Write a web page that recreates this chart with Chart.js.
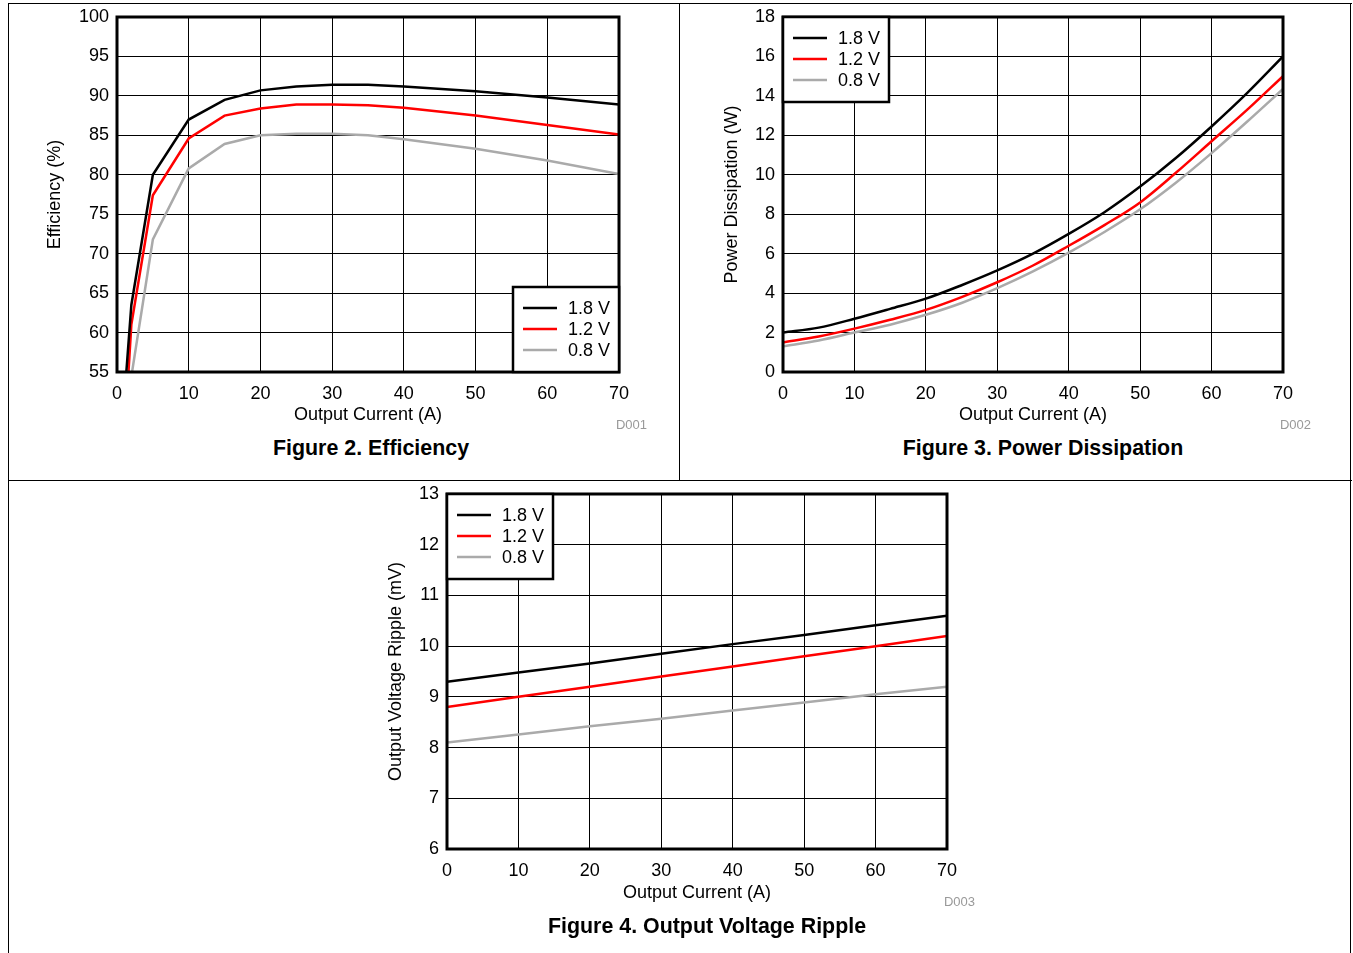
<!DOCTYPE html>
<html>
<head>
<meta charset="utf-8">
<script src="https://cdn.jsdelivr.net/npm/chart.js@4/dist/chart.umd.min.js"></script>
<style>
  body { margin: 0; background: #fff; font-family: "Liberation Sans", Arial, sans-serif; }
  #page { position: relative; width: 1353px; height: 953px; overflow: hidden; }
  .rule { position: absolute; background: #000; }
  canvas { position: absolute; }
  .caption { position: absolute; font-weight: bold; font-size: 21.4px; transform: translate(-50%, -50%); white-space: nowrap; }
  .code { position: absolute; font-size: 13px; color: #999; transform: translate(-100%, -50%); }
</style>
</head>
<body>
<div id="page">
  <div class="rule" style="left:8px;top:3px;width:1344px;height:1px"></div>
  <div class="rule" style="left:8px;top:3px;width:1px;height:950px"></div>
  <div class="rule" style="left:1350px;top:3px;width:1px;height:950px"></div>
  <div class="rule" style="left:679px;top:3px;width:1px;height:477px"></div>
  <div class="rule" style="left:8px;top:480px;width:1344px;height:1px"></div>

  <canvas id="effChart" width="660" height="430" style="left:10px;top:4px;width:660px;height:430px"></canvas>
  <canvas id="pdChart" width="650" height="430" style="left:690px;top:4px;width:650px;height:430px"></canvas>
  <canvas id="ripChart" width="620" height="430" style="left:370px;top:484px;width:620px;height:430px"></canvas>

  <div class="code" style="left:647px;top:424px">D001</div>
  <div class="code" style="left:1311px;top:424px">D002</div>
  <div class="code" style="left:975px;top:901px">D003</div>

  <div class="caption" style="left:371px;top:448px">Figure 2. Efficiency</div>
  <div class="caption" style="left:1043px;top:448px">Figure 3. Power Dissipation</div>
  <div class="caption" style="left:707px;top:926px">Figure 4. Output Voltage Ripple</div>
</div>
<script>
// ==================
// Data
// ==================
const seriesLabels = ["1.8 V", "1.2 V", "0.8 V"];
const seriesColors = ["#000000", "#ff0000", "#aaaaaa"];

// Figure 2 - efficiency (%)
const effCurrent18 = [1.3, 2, 5, 10, 15, 20, 25, 30, 35, 40, 50, 60, 70];
const eff18 = [55, 63.5, 80, 87, 89.5, 90.7, 91.2, 91.4, 91.4, 91.2, 90.6, 89.8, 88.9];
const effCurrent12 = [1.6, 2, 5, 10, 15, 20, 25, 30, 35, 40, 50, 60, 70];
const eff12 = [55, 61, 77.4, 84.6, 87.5, 88.4, 88.9, 88.9, 88.8, 88.5, 87.5, 86.3, 85.1];
const effCurrent08 = [2.1, 5, 10, 15, 20, 25, 30, 35, 40, 50, 60, 70];
const eff08 = [55, 71.8, 80.8, 83.9, 85.0, 85.2, 85.2, 85.0, 84.5, 83.3, 81.8, 80.1];

// Figure 3 - power dissipation (W)
const pdCurrent = [0, 5, 10, 15, 20, 25, 30, 35, 40, 45, 50, 55, 60, 65, 70];
const pd18 = [2.0, 2.25, 2.7, 3.2, 3.72, 4.4, 5.15, 6.0, 7.0, 8.1, 9.4, 10.85, 12.45, 14.15, 16.0];
const pd12 = [1.5, 1.8, 2.2, 2.65, 3.15, 3.8, 4.55, 5.4, 6.4, 7.45, 8.6, 10.1, 11.7, 13.3, 15.0];
const pd08 = [1.3, 1.6, 2.0, 2.4, 2.9, 3.5, 4.25, 5.1, 6.05, 7.1, 8.25, 9.6, 11.1, 12.7, 14.35];

// Figure 4 - output voltage ripple (mV)
const ripCurrent = [0, 10, 20, 30, 40, 50, 60, 70];
const rip18 = [9.3, 9.48, 9.66, 9.85, 10.04, 10.22, 10.41, 10.6];
const rip12 = [8.8, 9.0, 9.2, 9.4, 9.6, 9.8, 10.0, 10.2];
const rip08 = [8.1, 8.26, 8.42, 8.57, 8.73, 8.89, 9.05, 9.2];

const FONT = "'Liberation Sans', Arial, sans-serif";

// frame round the plot + legend box inside a corner
const framePlugin = {
  id: "frameLegend",
  afterDraw(chart, args, opts) {
    const ctx = chart.ctx;
    const a = chart.chartArea;
    ctx.save();
    ctx.strokeStyle = "#000";
    ctx.lineWidth = 3;
    ctx.strokeRect(a.left, a.top, a.right - a.left, a.bottom - a.top);

    const w = 106, h = 85;
    const x = opts.corner === "br" ? a.right - w : a.left;
    const y = opts.corner === "br" ? a.bottom - h : a.top;
    ctx.fillStyle = "#fff";
    ctx.fillRect(x, y, w, h);
    ctx.lineWidth = 2.5;
    ctx.strokeRect(x, y, w, h);
    ctx.font = "18px " + FONT;
    ctx.textBaseline = "middle";
    chart.data.datasets.forEach((ds, i) => {
      const ry = y + 21 + i * 21;
      ctx.strokeStyle = ds.borderColor;
      ctx.lineWidth = 2.5;
      ctx.beginPath();
      ctx.moveTo(x + 10, ry);
      ctx.lineTo(x + 44, ry);
      ctx.stroke();
      ctx.fillStyle = "#000";
      ctx.fillText(ds.label, x + 55, ry + 1);
    });
    ctx.restore();
  }
};

function points(xs, ys) {
  return xs.map((x, i) => ({ x: x, y: ys[i] }));
}

function makeChart(id, cfg) {
  const datasets = cfg.series.map((s, i) => ({
    label: seriesLabels[i],
    data: points(s[0], s[1]),
    borderColor: seriesColors[i],
    backgroundColor: seriesColors[i],
    borderWidth: 2.5,
    pointRadius: 0,
    tension: cfg.smooth ? 0.4 : 0,
    cubicInterpolationMode: cfg.smooth ? "monotone" : "default"
  }));

  return new Chart(document.getElementById(id), {
    type: "line",
    data: { datasets: datasets },
    plugins: [framePlugin],
    options: {
      responsive: false,
      animation: false,
      devicePixelRatio: 1,
      layout: { padding: cfg.pad },
      plugins: {
        legend: { display: false },
        tooltip: { enabled: false },
        frameLegend: { corner: cfg.corner }
      },
      scales: {
        x: {
          type: "linear",
          min: 0, max: 70,
          afterFit: s => { s.height = cfg.xHeight; s.paddingLeft = 0; s.paddingRight = 0; },
          grid: { color: "#000", lineWidth: 1, drawTicks: false },
          border: { display: false },
          ticks: { stepSize: 10, padding: 11, color: "#000", font: { family: FONT, size: 18 }, maxRotation: 0 },
          title: { display: true, text: "Output Current (A)", color: "#000", padding: 0, font: { family: FONT, size: 18 } }
        },
        y: {
          min: cfg.yMin, max: cfg.yMax,
          afterFit: s => { s.width = cfg.yWidth; s.paddingTop = 0; s.paddingBottom = 0; },
          grid: { color: "#000", lineWidth: 1, drawTicks: false },
          border: { display: false },
          ticks: { stepSize: cfg.yStep, padding: 8, color: "#000", font: { family: FONT, size: 18 } },
          title: { display: true, text: cfg.yTitle, color: "#000", padding: 0, font: { family: FONT, size: 18 } }
        }
      }
    }
  });
}

makeChart("effChart", {
  series: [[effCurrent18, eff18], [effCurrent12, eff12], [effCurrent08, eff08]],
  yMin: 55, yMax: 100, yStep: 5, yTitle: "Efficiency (%)",
  pad: { left: 34, top: 13, right: 51, bottom: 8 },
  yWidth: 73, xHeight: 54, corner: "br", smooth: false
});

makeChart("pdChart", {
  series: [[pdCurrent, pd18], [pdCurrent, pd12], [pdCurrent, pd08]],
  yMin: 0, yMax: 18, yStep: 2, yTitle: "Power Dissipation (W)",
  pad: { left: 31, top: 13, right: 57, bottom: 8 },
  yWidth: 62, xHeight: 54, corner: "tl", smooth: true
});

makeChart("ripChart", {
  series: [[ripCurrent, rip18], [ripCurrent, rip12], [ripCurrent, rip08]],
  yMin: 6, yMax: 13, yStep: 1, yTitle: "Output Voltage Ripple (mV)",
  pad: { left: 15, top: 10, right: 43, bottom: 10 },
  yWidth: 62, xHeight: 55, corner: "tl", smooth: false
});
</script>
</body>
</html>
